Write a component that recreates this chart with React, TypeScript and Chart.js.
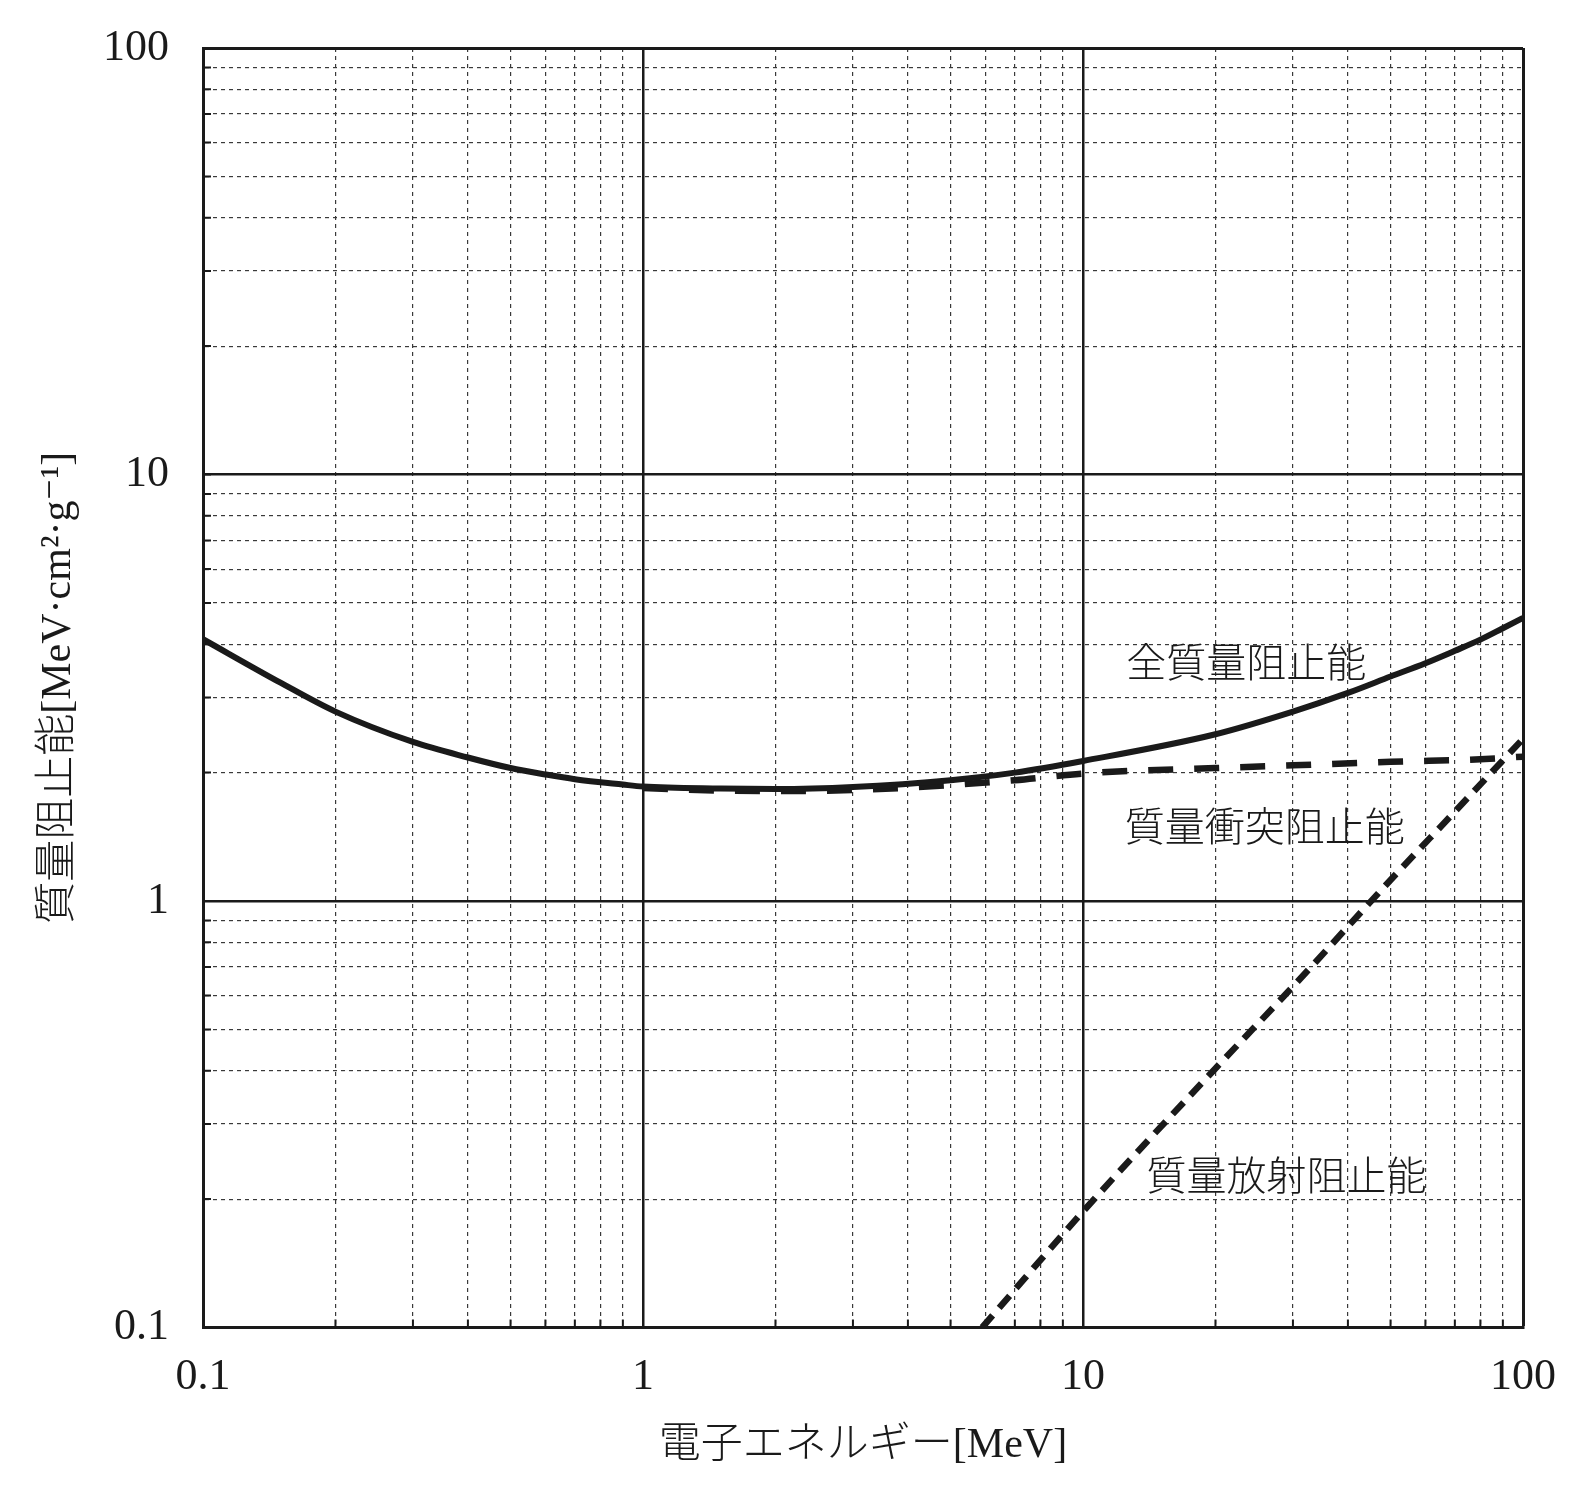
import { useEffect, useRef } from 'react'
import { Chart, registerables } from 'chart.js'
import type { ChartConfiguration, Plugin } from 'chart.js'

Chart.register(...registerables)

// axis decades and the 1..9 steps inside each decade (log grid)
const decades = [0.1, 1, 10, 100]
const mantissas = [1, 2, 3, 4, 5, 6, 7, 8, 9]
const tickLabels = ['0.1', '1', '10', '100']

// 全質量阻止能 (solid)
const totalEnergy = [0.1, 0.15, 0.2, 0.3, 0.4, 0.5, 0.6, 0.7, 0.9, 1, 1.5, 2, 3, 5, 7, 10, 20, 30, 40, 50, 60, 70, 80, 90, 100]
const totalPower = [4.11, 3.25, 2.78, 2.36, 2.17, 2.05, 1.98, 1.93, 1.875, 1.855, 1.835, 1.83, 1.85, 1.92, 2.0, 2.13, 2.46, 2.78, 3.075, 3.36, 3.61, 3.86, 4.1, 4.36, 4.61]

// 質量衝突阻止能 (long dashes)
const collisionEnergy = [1, 1.5, 2, 3, 5, 7, 10, 20, 30, 50, 80, 100]
const collisionPower = [1.84, 1.815, 1.81, 1.82, 1.87, 1.92, 1.99, 2.05, 2.08, 2.12, 2.15, 2.18]

// 質量放射阻止能 (short dashes)
const radiativeEnergy = [5.9, 10, 20, 30, 50, 70, 100]
const radiativePower = [0.1, 0.187, 0.405, 0.63, 1.12, 1.62, 2.4]

const curveLabels = ['全質量阻止能', '質量衝突阻止能', '質量放射阻止能']
const labelEnergy = [23.5, 25.9, 29]
const labelPower = [3.54, 1.467, 0.222]

const ink = '#1a1a1a'
const minorInk = '#3a3a3a'
const serif = "'Liberation Serif', 'DejaVu Serif', 'Noto Sans CJK JP', serif"

const gridValues = decades
  .slice(0, -1)
  .flatMap((d) => mantissas.map((m) => Number((d * m).toPrecision(6))))
  .concat(decades[decades.length - 1])

const decadeIndex = (v: number) => decades.findIndex((d) => Math.abs(v / d - 1) < 1e-6)
const isDecade = (v: number) => decadeIndex(v) >= 0

const toPoints = (xs: number[], ys: number[]) => xs.map((x, i) => ({ x, y: ys[i] }))

const innerTicks: Plugin = {
  id: 'innerTicks',
  beforeDatasetsDraw(chart) {
    const { ctx, chartArea, scales } = chart
    ctx.save()
    ctx.strokeStyle = ink
    ctx.lineWidth = 2
    ctx.beginPath()
    gridValues.forEach((v) => {
      const px = scales.x.getPixelForValue(v)
      ctx.moveTo(px, chartArea.bottom)
      ctx.lineTo(px, chartArea.bottom - 8)
      const py = scales.y.getPixelForValue(v)
      ctx.moveTo(chartArea.left, py)
      ctx.lineTo(chartArea.left + 8, py)
    })
    ctx.stroke()
    ctx.restore()
  },
}

const curveText: Plugin = {
  id: 'curveText',
  afterDatasetsDraw(chart) {
    const { ctx, scales } = chart
    ctx.save()
    ctx.font = `300 40px ${serif}`
    ctx.fillStyle = ink
    ctx.textAlign = 'center'
    ctx.textBaseline = 'middle'
    curveLabels.forEach((t, i) => {
      ctx.fillText(t, scales.x.getPixelForValue(labelEnergy[i]), scales.y.getPixelForValue(labelPower[i]))
    })
    ctx.restore()
  },
}

const logAxis = (titleText: string, isX: boolean) => ({
  type: 'logarithmic' as const,
  min: decades[0],
  max: decades[decades.length - 1],
  afterBuildTicks: (scale: any) => {
    scale.ticks = gridValues.map((v) => ({ value: v, major: isDecade(v) }))
  },
  afterFit: (scale: any) => {
    if (isX) scale.height = 152.5
    else scale.width = 195
    // the frame position is fixed by layout.padding, not by label overhang
    scale.paddingTop = 0
    scale.paddingBottom = 0
    scale.paddingLeft = 0
    scale.paddingRight = 0
  },
  ticks: {
    autoSkip: false,
    maxRotation: 0,
    padding: isX ? 24 : 34,
    color: ink,
    font: { family: serif, size: 44, lineHeight: 1.2 },
    callback: (value: any) => {
      const i = decadeIndex(Number(value))
      return i >= 0 ? tickLabels[i] : ''
    },
  },
  grid: {
    drawTicks: false,
    color: (c: any) => (c.tick && !isDecade(c.tick.value) ? minorInk : ink),
    lineWidth: (c: any) => {
      if (!c.tick) return 3
      if (Math.abs(c.tick.value - 100) < 1e-6) return 3
      return isDecade(c.tick.value) ? 2.5 : 1.2
    },
  },
  border: {
    display: true,
    color: ink,
    width: 3,
    dash: (c: any) => (c.tick && !isDecade(c.tick.value) ? [4, 4] : []),
  },
  title: {
    display: true,
    text: titleText,
    color: ink,
    font: { family: serif, size: 42, weight: 300 as any, lineHeight: 1.2 },
    padding: isX ? { top: 0, bottom: 9 } : { top: 26, bottom: 0 },
  },
})

export default function App() {
  const canvasRef = useRef<HTMLCanvasElement>(null)
  const chartRef = useRef<Chart>()

  useEffect(() => {
    if (!canvasRef.current) return
    const ctx = canvasRef.current.getContext('2d')
    if (!ctx) return

    const config: ChartConfiguration = {
      type: 'line',
      data: {
        datasets: [
          {
            label: curveLabels[0],
            data: toPoints(totalEnergy, totalPower),
            borderColor: ink,
            borderWidth: 6,
            pointRadius: 0,
            cubicInterpolationMode: 'monotone',
          },
          {
            label: curveLabels[1],
            data: toPoints(collisionEnergy, collisionPower),
            borderColor: ink,
            borderWidth: 6.5,
            borderDash: [25, 21],
            borderCapStyle: 'butt',
            pointRadius: 0,
            cubicInterpolationMode: 'monotone',
          },
          {
            label: curveLabels[2],
            data: toPoints(radiativeEnergy, radiativePower),
            borderColor: ink,
            borderWidth: 6.5,
            borderDash: [16, 10],
            borderCapStyle: 'butt',
            pointRadius: 0,
            cubicInterpolationMode: 'monotone',
          },
        ],
      },
      options: {
        animation: false,
        responsive: true,
        maintainAspectRatio: false,
        layout: { padding: { top: 40, right: 57, bottom: 0, left: 0 } },
        plugins: {
          legend: { display: false },
          tooltip: { enabled: false },
        },
        scales: {
          x: logAxis('電子エネルギー[MeV]', true) as any,
          y: logAxis('質量阻止能[MeV·cm²·g⁻¹]', false) as any,
        },
      },
      plugins: [innerTicks, curveText],
    }

    if (chartRef.current) chartRef.current.destroy()
    chartRef.current = new Chart(ctx, config)

    return () => {
      if (chartRef.current) {
        chartRef.current.destroy()
        chartRef.current = undefined
      }
    }
  }, [])

  return (
    <div style={{ position: 'relative', width: 1572, height: 1472 }}>
      <canvas ref={canvasRef} />
    </div>
  )
}
